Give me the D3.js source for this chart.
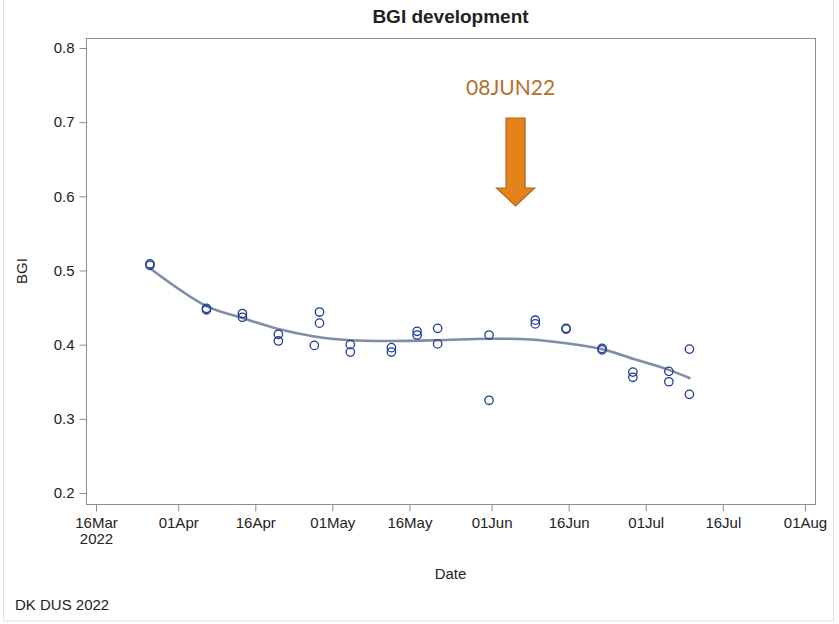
<!DOCTYPE html>
<html>
<head>
<meta charset="utf-8">
<script src="https://cdn.jsdelivr.net/npm/d3@7"></script>
<style>
  body { margin: 0; background: #fff; }
  svg text { font-family: "Liberation Sans", Arial, sans-serif; fill: #222; }
</style>
</head>
<body>
<div id="chart"></div>
<script>
// Observed BGI values (two measurements on most dates)
const pointDates = [
  "2022-03-26", "2022-03-26", "2022-04-06", "2022-04-06", "2022-04-13", "2022-04-13",
  "2022-04-20", "2022-04-20", "2022-04-27", "2022-04-28", "2022-04-28",
  "2022-05-04", "2022-05-04", "2022-05-12", "2022-05-12", "2022-05-17", "2022-05-17",
  "2022-05-21", "2022-05-21", "2022-05-31", "2022-05-31", "2022-06-09", "2022-06-09",
  "2022-06-15", "2022-06-15", "2022-06-22", "2022-06-22", "2022-06-28", "2022-06-28",
  "2022-07-05", "2022-07-05", "2022-07-09", "2022-07-09"
];
const pointValues = [
  0.507, 0.509, 0.447, 0.449, 0.442, 0.437,
  0.414, 0.405, 0.399, 0.444, 0.429,
  0.400, 0.390, 0.396, 0.390, 0.418, 0.413,
  0.422, 0.401, 0.413, 0.325, 0.433, 0.428,
  0.422, 0.421, 0.395, 0.393, 0.363, 0.356,
  0.364, 0.350, 0.394, 0.333
];

// Smoothed fit
const fitDates = [
  "2022-03-26", "2022-04-06", "2022-04-13", "2022-04-20", "2022-04-27", "2022-05-04",
  "2022-05-12", "2022-05-21", "2022-05-31", "2022-06-08", "2022-06-15", "2022-06-22",
  "2022-06-28", "2022-07-05", "2022-07-09"
];
const fitValues = [
  0.503, 0.452, 0.436, 0.421, 0.411, 0.406,
  0.405, 0.406, 0.408, 0.407, 0.402, 0.394,
  0.381, 0.366, 0.355
];

const xTickDates = ["2022-03-16", "2022-04-01", "2022-04-16", "2022-05-01", "2022-05-16",
  "2022-06-01", "2022-06-16", "2022-07-01", "2022-07-16", "2022-08-01"];
const xTickLabels = ["16Mar", "01Apr", "16Apr", "01May", "16May", "01Jun", "16Jun", "01Jul", "16Jul", "01Aug"];
const yTicks = [0.2, 0.3, 0.4, 0.5, 0.6, 0.7, 0.8];

const annotationDate = "2022-06-08";
const annotationLabel = "08JUN22";

const width = 839, height = 624;
const frame = { left: 86, right: 815, top: 38, bottom: 504 };
const parse = d3.utcParse("%Y-%m-%d");
// observations are plotted at the middle of their day
const midDay = s => d3.utcHour.offset(parse(s), 12);

const svg = d3.select("#chart").append("svg")
  .attr("width", width)
  .attr("height", height);

// faint outer border of the picture
svg.append("rect")
  .attr("x", 3.5).attr("y", -1)
  .attr("width", 830).attr("height", 622)
  .attr("fill", "none")
  .attr("stroke", "#e2e2e2");

const x = d3.scaleUtc()
  .domain([parse("2022-03-16"), parse("2022-08-01")])
  .range([96, 805]);

const y = d3.scaleLinear()
  .domain([0.2, 0.8])
  .range([493, 48]);

// Plot frame
svg.append("rect")
  .attr("x", frame.left + 0.5).attr("y", frame.top + 0.5)
  .attr("width", frame.right - frame.left).attr("height", frame.bottom - frame.top)
  .attr("fill", "none")
  .attr("stroke", "#8c8c8c");

// Y axis
const yAxis = svg.append("g")
  .attr("transform", `translate(${frame.left + 0.5},0)`)
  .call(d3.axisLeft(y).tickValues(yTicks).tickFormat(d3.format(".1f")).tickSize(7).tickPadding(5));
yAxis.select(".domain").remove();
yAxis.selectAll("line").attr("stroke", "#8c8c8c");
yAxis.selectAll("text")
  .style("font-size", "15px")
  .style("font-family", "Liberation Sans, Arial, sans-serif")
  .attr("fill", "#222");

// X axis
const xAxis = svg.append("g")
  .attr("transform", `translate(0,${frame.bottom + 0.5})`)
  .call(d3.axisBottom(x)
    .tickValues(xTickDates.map(parse))
    .tickFormat((d, i) => xTickLabels[i])
    .tickSize(7).tickPadding(6));
xAxis.select(".domain").remove();
xAxis.selectAll("line").attr("stroke", "#8c8c8c");
xAxis.selectAll("text")
  .style("font-size", "15px")
  .style("font-family", "Liberation Sans, Arial, sans-serif")
  .attr("fill", "#222");
xAxis.select(".tick text")
  .append("tspan")
  .attr("x", 0).attr("dy", "1.05em")
  .text("2022");

// Title and axis labels
svg.append("text")
  .attr("x", (frame.left + frame.right) / 2)
  .attr("y", 23)
  .attr("text-anchor", "middle")
  .style("font-size", "19px")
  .style("font-weight", "bold")
  .text("BGI development");

svg.append("text")
  .attr("x", (frame.left + frame.right) / 2)
  .attr("y", 579)
  .attr("text-anchor", "middle")
  .style("font-size", "15px")
  .text("Date");

svg.append("text")
  .attr("transform", `translate(27,${(frame.top + frame.bottom) / 2}) rotate(-90)`)
  .attr("text-anchor", "middle")
  .style("font-size", "15px")
  .text("BGI");

svg.append("text")
  .attr("x", 15)
  .attr("y", 610)
  .style("font-size", "15px")
  .text("DK DUS 2022");

// Fit line
const fitData = fitDates.map((d, i) => ({ date: midDay(d), value: fitValues[i] }));
svg.append("path")
  .datum(fitData)
  .attr("fill", "none")
  .attr("stroke", "#7d8dab")
  .attr("stroke-width", 2.6)
  .attr("stroke-linecap", "round")
  .attr("d", d3.line()
    .x(d => x(d.date))
    .y(d => y(d.value))
    .curve(d3.curveCatmullRom.alpha(0.5)));

// Observations
const points = pointDates.map((d, i) => ({ date: midDay(d), value: pointValues[i] }));
svg.append("g")
  .selectAll("circle")
  .data(points)
  .join("circle")
  .attr("cx", d => x(d.date))
  .attr("cy", d => y(d.value))
  .attr("r", 4.2)
  .attr("fill", "none")
  .attr("stroke", "#1f3b94")
  .attr("stroke-width", 1.3);

// Annotation arrow
const ax = x(parse(annotationDate)) - 12;
svg.append("text")
  .attr("x", ax - 5)
  .attr("y", 95)
  .attr("text-anchor", "middle")
  .style("font-family", "Lato, 'Open Sans', sans-serif")
  .style("font-size", "21px")
  .style("fill", "#b5702a")
  .text(annotationLabel);

const shaftW = 19, headW = 38, arrowTop = 118, headTop = 188, arrowTip = 206;
svg.append("path")
  .attr("d", [
    [ax - shaftW / 2, arrowTop], [ax + shaftW / 2, arrowTop], [ax + shaftW / 2, headTop],
    [ax + headW / 2, headTop], [ax, arrowTip], [ax - headW / 2, headTop],
    [ax - shaftW / 2, headTop]
  ].map((p, i) => (i ? "L" : "M") + p[0] + "," + p[1]).join("") + "Z")
  .attr("fill", "#e6821a")
  .attr("stroke", "#b0651c")
  .attr("stroke-width", 1.2);
</script>
</body>
</html>
